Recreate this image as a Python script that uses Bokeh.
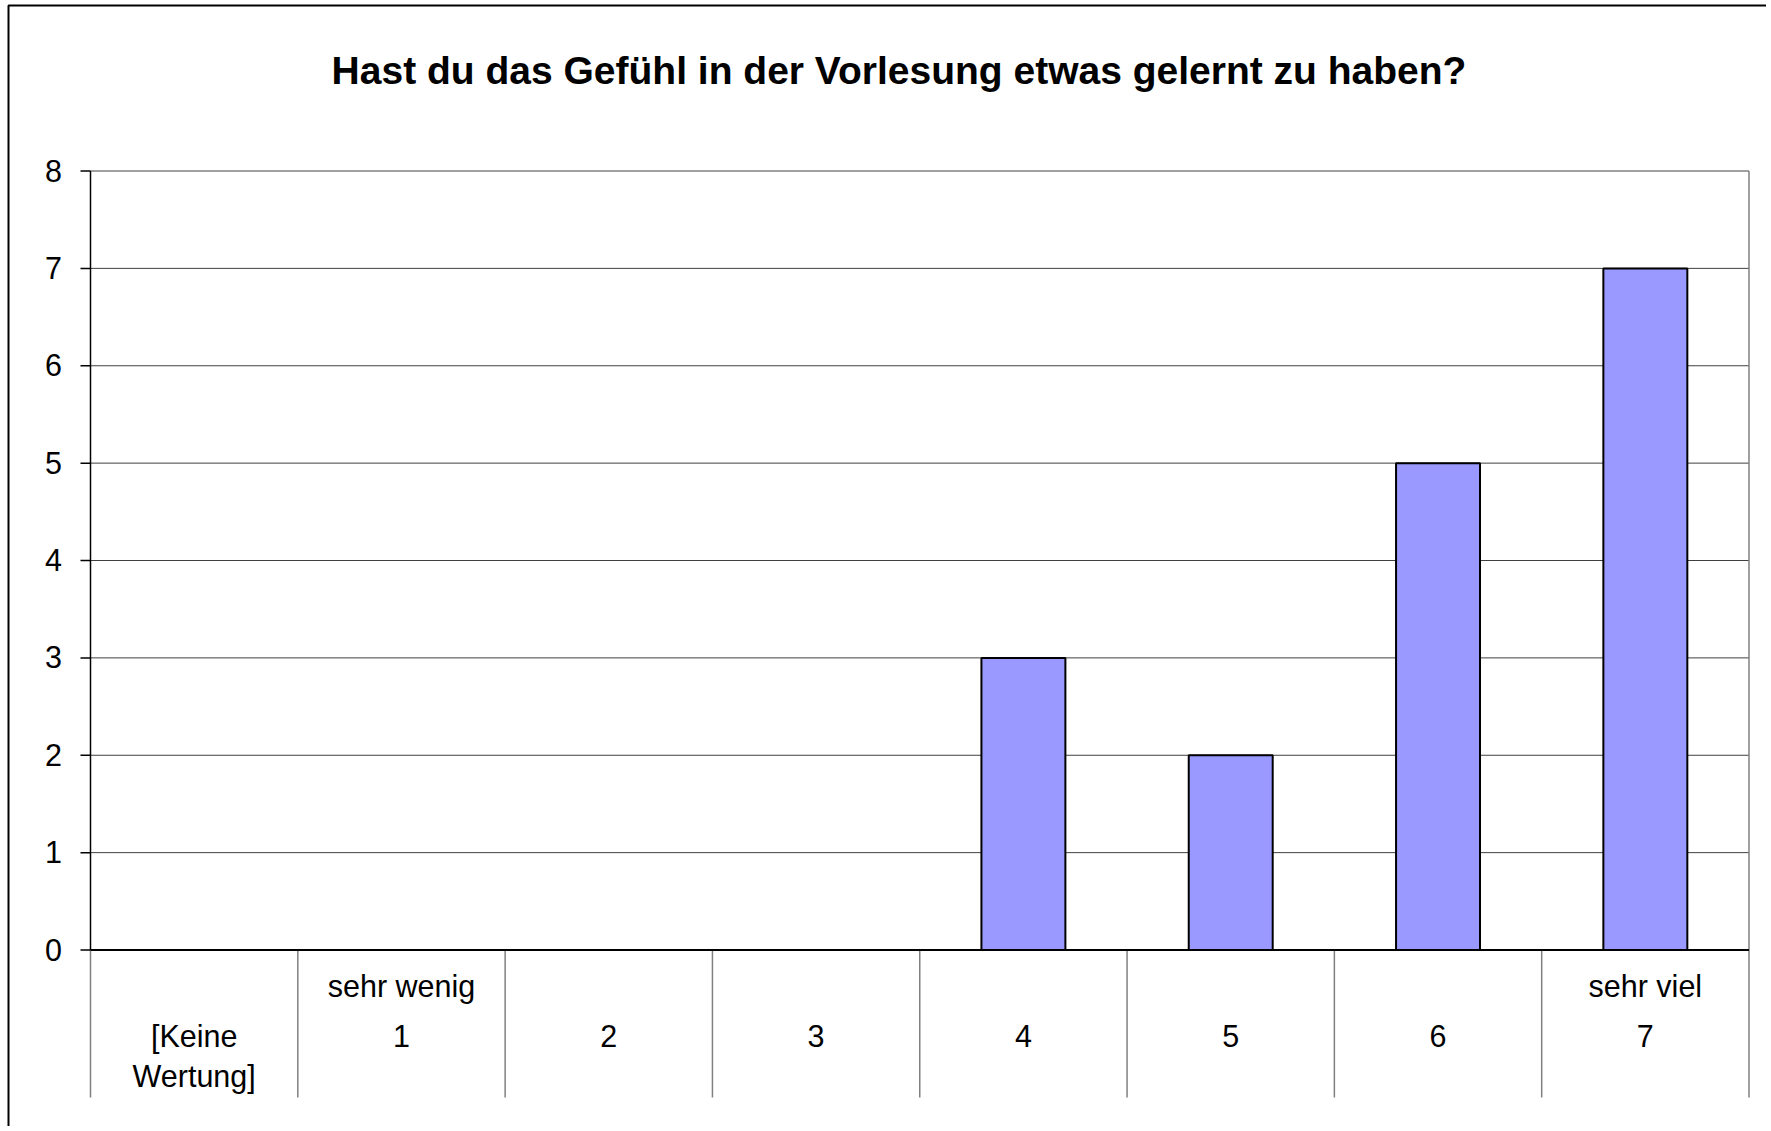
from bokeh.plotting import figure
from bokeh.models import Range1d, ColumnDataSource
from bokeh.core.properties import value
from bokeh.embed import file_html
from bokeh.resources import INLINE

# ---- data ----
categories = ["[Keine Wertung]", "1", "2", "3", "4", "5", "6", "7"]
counts = [0, 0, 0, 0, 3, 2, 5, 7]
label_top = ["", "sehr wenig", "", "", "", "", "", "sehr viel"]
label_mid = ["[Keine", "1", "2", "3", "4", "5", "6", "7"]
label_bottom = ["Wertung]", "", "", "", "", "", "", ""]
y_ticks = [0, 1, 2, 3, 4, 5, 6, 7, 8]
title_text = "Hast du das Gefühl in der Vorlesung etwas gelernt zu haben?"

FONT = value("Liberation Sans")
n = len(categories)
ymax = y_ticks[-1]

# ---- layout (pixels) ----
W, H = 1766, 1126
X0, X1 = 90.0, 1748.5      # frame left/right
Y0, Y1 = 949.5, 170.5      # frame bottom/top
XU = (X1 - X0) / n
YU = (Y0 - Y1) / ymax


def px(x):
    return (x - X0) / XU


def py(y):
    return (Y0 - y) / YU


p = figure(width=W, height=H, output_backend="svg", toolbar_location=None,
           x_range=Range1d(px(0), px(W)), y_range=Range1d(py(H), py(0)),
           min_border=0)
p.xaxis.visible = False
p.yaxis.visible = False
p.grid.visible = False
p.outline_line_color = None
p.background_fill_color = "white"
p.border_fill_color = "white"

# outer border (left + top)
p.line(x=[px(8), px(8), px(W + 10)], y=[py(H + 10), py(5), py(5)],
       line_color="black", line_width=2)

# horizontal gridlines
inner = y_ticks[1:-1]
p.segment(x0=[0] * len(inner), x1=[n] * len(inner), y0=inner, y1=inner,
          line_color="#404040", line_width=1)
# plot area top and right border
p.segment(x0=[0, n], x1=[n, n], y0=[ymax, 0], y1=[ymax, ymax],
          line_color="#808080", line_width=1.5)

# category separators
seps = list(range(n + 1))
p.segment(x0=seps, x1=seps, y0=[0] * len(seps), y1=[py(1097)] * len(seps),
          line_color="#808080", line_width=1.5)

# bars
xc = [i + 0.5 for i in range(n)]
src = ColumnDataSource(dict(x=xc, top=counts))
p.vbar(x="x", top="top", bottom=0, width=0.405, source=src,
       fill_color="#9999FF", line_color="black", line_width=2)

# axes lines and y ticks
p.segment(x0=[px(80)] * len(y_ticks), x1=[0] * len(y_ticks), y0=y_ticks,
          y1=y_ticks, line_color="black", line_width=1.5)
p.segment(x0=[0], x1=[0], y0=[0], y1=[ymax], line_color="black", line_width=1.5)
p.segment(x0=[0], x1=[n], y0=[0], y1=[0], line_color="black", line_width=2)

FS = "30.5px"
# y tick labels
p.text(x=[px(53)] * len(y_ticks), y=[t + 0.5 / YU for t in y_ticks],
       text=[str(t) for t in y_ticks], text_align="center",
       text_baseline="alphabetic", text_font=FONT, text_font_size=FS,
       text_color="black")

# category labels
for texts, base in [(label_top, 985), (label_mid, 1035.5), (label_bottom, 1075)]:
    p.text(x=xc, y=[py(base)] * n, text=texts, text_align="center",
           text_baseline="alphabetic", text_font=FONT, text_font_size=FS,
           text_color="black")

# title
p.text(x=[px(898.5)], y=[py(69.5)], text=[title_text], text_align="center",
       text_baseline="alphabetic", text_font=FONT, text_font_size="39px",
       text_font_style="bold", text_color="black")

open("out.html", "w").write(file_html(p, INLINE))
